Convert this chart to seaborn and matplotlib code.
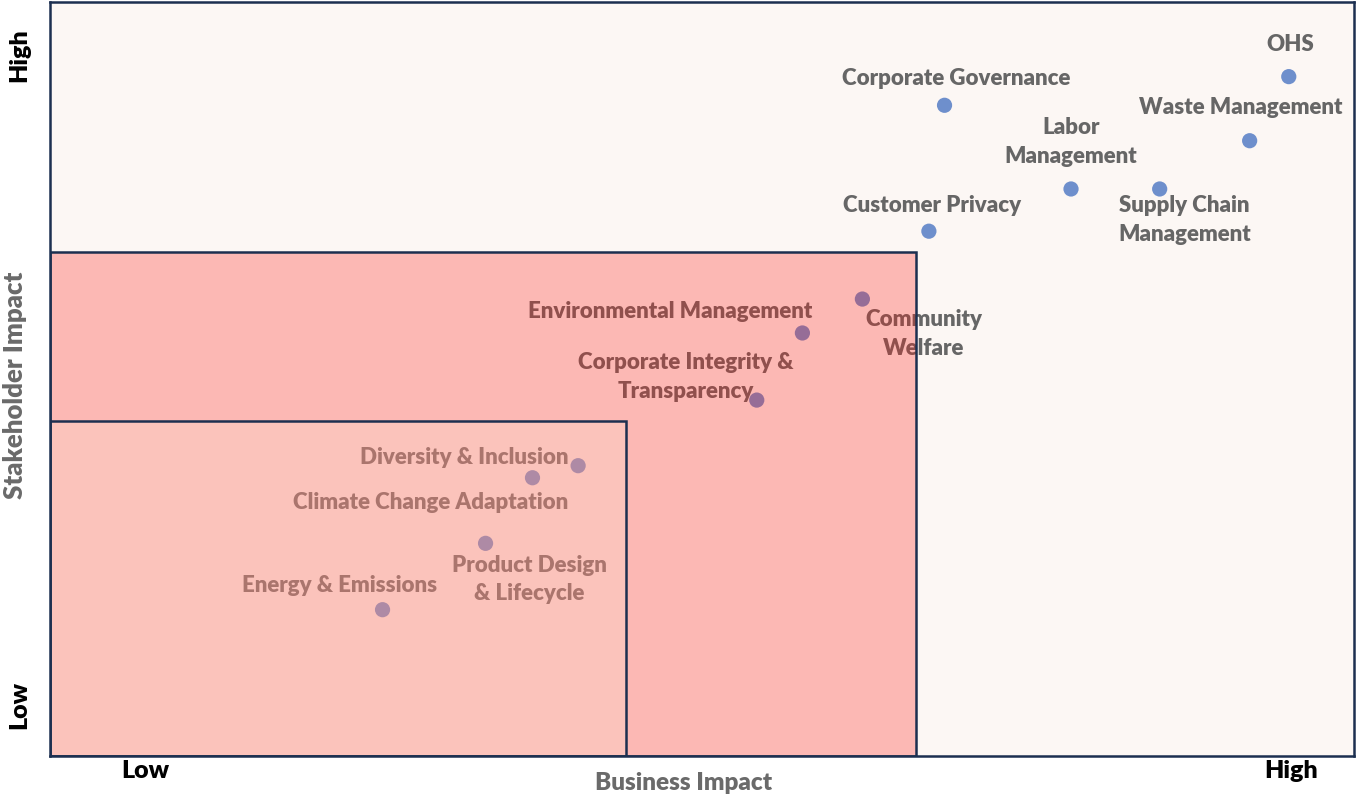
import numpy as np
import pandas as pd
import matplotlib
matplotlib.use("Agg")
import matplotlib.pyplot as plt
import seaborn as sns
from matplotlib.patches import Rectangle

# --- DATA ---
TOPICS = [
    'OHS', 'Corporate Governance', 'Waste Management', 'Labor\nManagement',
    'Supply Chain\nManagement', 'Customer Privacy', 'Community\nWelfare',
    'Environmental Management', 'Corporate Integrity &\nTransparency',
    'Diversity & Inclusion', 'Climate Change Adaptation',
    'Product Design\n& Lifecycle', 'Energy & Emissions',
]
BUSINESS_IMPACT = [9.50, 6.86, 9.20, 7.83, 8.51, 6.74, 6.23, 5.77, 5.42, 4.05, 3.70, 3.34, 2.55]
STAKEHOLDER_IMPACT = [9.01, 8.63, 8.16, 7.52, 7.52, 6.96, 6.06, 5.61, 4.72, 3.85, 3.69, 2.82, 1.94]

# priority zones (upper corner in axis units)
ZONE_OUTER = (6.64, 6.68)
ZONE_INNER = (4.42, 4.44)

TICK_POS_X = [0.73, 9.52]
TICK_POS_Y = [0.68, 9.30]
TICK_TEXT = ['Low', 'High']

# label offsets in pixels (dx, dy) from the point
LABEL_OFFSETS = {
    'OHS': (1, 32),
    'Corporate Governance': (12, 27),
    'Waste Management': (-9, 33),
    'Labor\nManagement': (0, 47),
    'Supply Chain\nManagement': (25, -31),
    'Customer Privacy': (3, 26),
    'Community\nWelfare': (61, -35),
    'Environmental Management': (-132, 21),
    'Corporate Integrity &\nTransparency': (-71, 23),
    'Diversity & Inclusion': (-114, 8),
    'Climate Change Adaptation': (-102, -25),
    'Product Design\n& Lifecycle': (44, -36),
    'Energy & Emissions': (-43, 24),
}

df = pd.DataFrame({'topic': TOPICS, 'business': BUSINESS_IMPACT, 'stakeholder': STAKEHOLDER_IMPACT})

sns.set_theme(style="white")
plt.rcParams['font.family'] = ['Lato', 'DejaVu Sans']

fig, ax = plt.subplots(figsize=(13.56, 7.96), dpi=100)
fig.subplots_adjust(left=0.0369, right=0.9985, bottom=0.0503, top=0.9975)
ax.set_facecolor('#fcf7f4')

sns.scatterplot(data=df, x='business', y='stakeholder', color='#6e8fcc', s=120,
                edgecolor='none', ax=ax, zorder=2)

for _, row in df.iterrows():
    dx, dy = LABEL_OFFSETS[row['topic']]
    ax.annotate(row['topic'], (row['business'], row['stakeholder']),
                xytext=(dx, dy), textcoords='offset pixels',
                ha='center', va='center', fontsize=16, fontweight='heavy',
                color='#666666', linespacing=1.45, zorder=2)

# translucent priority zones sit on top of the points and labels
navy = '#1c2f50'
ax.add_patch(Rectangle((0, 0), ZONE_OUTER[0], ZONE_OUTER[1],
                       facecolor=(1.0, 0.09, 0.06, 0.28), edgecolor=navy,
                       linewidth=1.8, zorder=3))
ax.add_patch(Rectangle((0, 0), ZONE_INNER[0], ZONE_INNER[1],
                       facecolor=(0.976, 0.894, 0.816, 0.25), edgecolor=navy,
                       linewidth=1.8, zorder=4))

ax.set_xlim(0, 10)
ax.set_ylim(0, 10)
for sp in ax.spines.values():
    sp.set_color(navy)
    sp.set_linewidth(1.8)
    sp.set_zorder(5)

ax.set_xticks(TICK_POS_X)
ax.set_xticklabels(TICK_TEXT, fontsize=18, fontweight='heavy', color='black')
ax.set_yticks(TICK_POS_Y)
ax.set_yticklabels(TICK_TEXT, fontsize=18, fontweight='heavy', color='black',
                   rotation=90, va='center')
ax.tick_params(axis='x', length=0, pad=3)
ax.tick_params(axis='y', length=0, pad=14)

ax.set_xlabel('Business Impact', fontsize=17.5, fontweight='heavy', color='#6a6a6a')
ax.set_ylabel('Stakeholder Impact', fontsize=18.5, fontweight='heavy', color='#6a6a6a')
ax.xaxis.set_label_coords(0.486, -0.021)
ax.yaxis.set_label_coords(-0.018, 0.492)

plt.savefig('out.png', dpi=100)
plt.close()
